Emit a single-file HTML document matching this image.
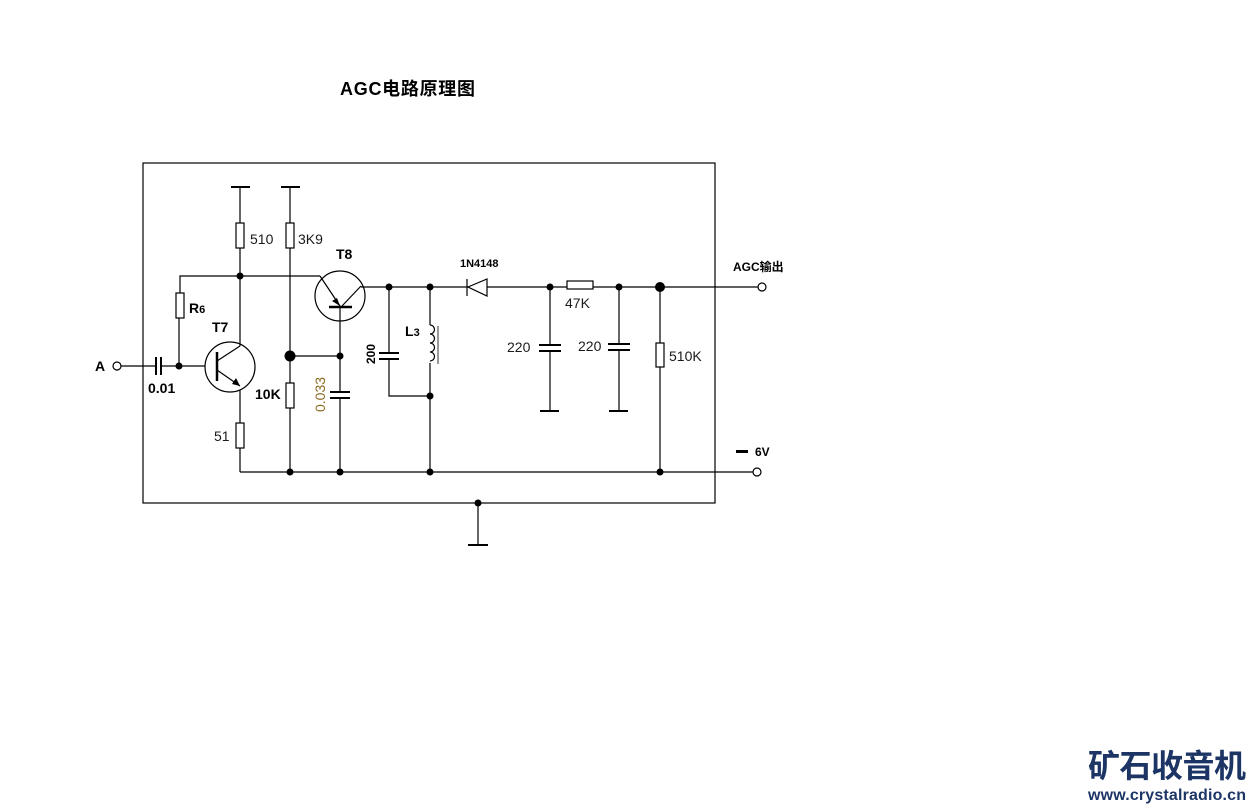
<!DOCTYPE html>
<html><head><meta charset="utf-8"><style>
html,body{margin:0;padding:0;background:#fff;}
svg{display:block;}
text{font-family:"Liberation Sans","Noto Sans CJK SC",sans-serif;}
</style></head><body>
<svg width="1254" height="806" viewBox="0 0 1254 806" xmlns="http://www.w3.org/2000/svg">
<text x="340" y="95" font-size="18" font-weight="bold" fill="#000" textLength="135">AGC电路原理图</text>
<g stroke="#000" stroke-width="1.2" fill="none">
<rect x="143" y="163" width="572" height="340"/>
<line x1="231" y1="187" x2="250" y2="187" stroke-width="2"/>
<line x1="240" y1="187" x2="240" y2="343"/>
<line x1="240" y1="388" x2="240" y2="472"/>
<polyline points="180,318 180,276 320,276"/>
<line x1="179" y1="318" x2="179" y2="366"/>
<line x1="121" y1="366" x2="217" y2="366"/>
<circle cx="230" cy="367" r="25" fill="#fff"/>
<line x1="217" y1="352" x2="217" y2="381" stroke-width="2.5"/>
<line x1="217" y1="361" x2="240" y2="346"/>
<line x1="240" y1="346" x2="240" y2="343"/>
<line x1="217" y1="370" x2="240" y2="386"/>
<line x1="281" y1="187" x2="300" y2="187" stroke-width="2"/>
<line x1="290" y1="187" x2="290" y2="472"/>
<line x1="290" y1="356" x2="340" y2="356"/>
<circle cx="340" cy="296" r="25" fill="#fff"/>
<line x1="320" y1="276" x2="340" y2="306"/>
<line x1="329" y1="307" x2="352" y2="307" stroke-width="2.5"/>
<line x1="342" y1="306" x2="361" y2="286"/>
<line x1="361" y1="287" x2="760" y2="287"/>
<line x1="340" y1="307" x2="340" y2="472"/>
<polyline points="389,287 389,396 430,396"/>
<line x1="430" y1="287" x2="430" y2="472"/>
<line x1="240" y1="472" x2="753" y2="472"/>
<line x1="550" y1="287" x2="550" y2="411"/>
<line x1="619" y1="287" x2="619" y2="411"/>
<line x1="660" y1="287" x2="660" y2="472"/>
<line x1="540" y1="411" x2="559" y2="411" stroke-width="2"/>
<line x1="609" y1="411" x2="628" y2="411" stroke-width="2"/>
<line x1="478" y1="503" x2="478" y2="545"/>
<line x1="468" y1="545" x2="488" y2="545" stroke-width="2"/>
</g>
<g stroke="#000" stroke-width="1.2" fill="#fff">
<rect x="236" y="223" width="8" height="25"/>
<rect x="286" y="223" width="8" height="25"/>
<rect x="176" y="293" width="8" height="25"/>
<rect x="286" y="383" width="8" height="25"/>
<rect x="236" y="423" width="8" height="25"/>
<rect x="567" y="281" width="26" height="8"/>
<rect x="656" y="343" width="8" height="24"/>
<circle cx="117" cy="366" r="4"/>
<circle cx="762" cy="287" r="4"/>
<circle cx="757" cy="472" r="4"/>
</g>
<g fill="#fff" stroke="none">
<rect x="156" y="355" width="5" height="20"/>
<rect x="328" y="392" width="24" height="6"/>
<rect x="378" y="353" width="22" height="6"/>
<rect x="538" y="345" width="24" height="6"/>
<rect x="607" y="344" width="24" height="6"/>
<rect x="428" y="325" width="4" height="38"/>
</g>
<g stroke="#000" stroke-width="2" fill="none">
<line x1="156" y1="357" x2="156" y2="375"/><line x1="161" y1="357" x2="161" y2="375"/>
<line x1="330" y1="392" x2="350" y2="392"/><line x1="330" y1="398" x2="350" y2="398"/>
<line x1="379" y1="353" x2="399" y2="353"/><line x1="379" y1="359" x2="399" y2="359"/>
<line x1="539" y1="345" x2="561" y2="345"/><line x1="539" y1="351" x2="561" y2="351"/>
<line x1="608" y1="344" x2="630" y2="344"/><line x1="608" y1="350" x2="630" y2="350"/>
</g>
<path d="M430,325 a4.5,4.5 0 0 1 0,9 a4.5,4.5 0 0 1 0,9 a4.5,4.5 0 0 1 0,9 a4.5,4.5 0 0 1 0,9" stroke="#000" stroke-width="1.2" fill="none"/>
<line x1="438" y1="326" x2="438" y2="364" stroke="#000" stroke-width="0.8"/>
<polygon points="487,279 487,296 468,287" fill="#fff" stroke="#000" stroke-width="1.2"/>
<line x1="467" y1="279" x2="467" y2="296" stroke="#000" stroke-width="1.2"/>
<polygon points="240,386 232,384 236,378" fill="#000"/>
<polygon points="340,306 332,301 337,298" fill="#000"/>
<g fill="#000">
<circle cx="240" cy="276" r="3.5"/><circle cx="179" cy="366" r="3.5"/>
<circle cx="290" cy="356" r="5.5"/><circle cx="340" cy="356" r="3.5"/>
<circle cx="389" cy="287" r="3.5"/><circle cx="430" cy="287" r="3.5"/>
<circle cx="430" cy="396" r="3.5"/><circle cx="550" cy="287" r="3.5"/>
<circle cx="619" cy="287" r="3.5"/><circle cx="660" cy="287" r="5"/>
<circle cx="290" cy="472" r="3.5"/><circle cx="340" cy="472" r="3.5"/>
<circle cx="430" cy="472" r="3.5"/><circle cx="660" cy="472" r="3.5"/>
<circle cx="478" cy="503" r="3.5"/>
<rect x="736" y="450" width="12" height="3"/>
</g>
<g font-size="14" fill="#1a1a1a">
<text x="250" y="244">510</text>
<text x="298" y="244">3K9</text>
<text x="214" y="441">51</text>
<text x="507" y="352">220</text>
<text x="578" y="351">220</text>
<text x="669" y="361">510K</text>
<text x="565" y="308">47K</text>
<text transform="translate(325,412) rotate(-90)" fill="#8a6a20">0.033</text>
</g>
<g font-size="14" font-weight="bold" fill="#000">
<text x="336" y="259">T8</text>
<text x="212" y="332">T7</text>
<text x="189" y="313">R<tspan font-size="11">6</tspan></text>
<text x="405" y="336">L<tspan font-size="11">3</tspan></text>
<text x="148" y="393">0.01</text>
<text x="95" y="371">A</text>
<text x="255" y="399">10K</text>
<text transform="translate(375,364) rotate(-90)" font-size="12">200</text>
<text x="460" y="267" font-size="11">1N4148</text>
<text x="733" y="271" font-size="12">AGC输出</text>
<text x="755" y="456" font-size="12">6V</text>
</g>
<text x="1088" y="777" font-size="32" font-weight="bold" fill="#1c3565" textLength="158" font-family="'Noto Sans CJK SC',sans-serif">矿石收音机</text>
<text x="1088" y="800" font-size="16" font-weight="bold" fill="#1c3565" textLength="158">www.crystalradio.cn</text>
</svg>
</body></html>
